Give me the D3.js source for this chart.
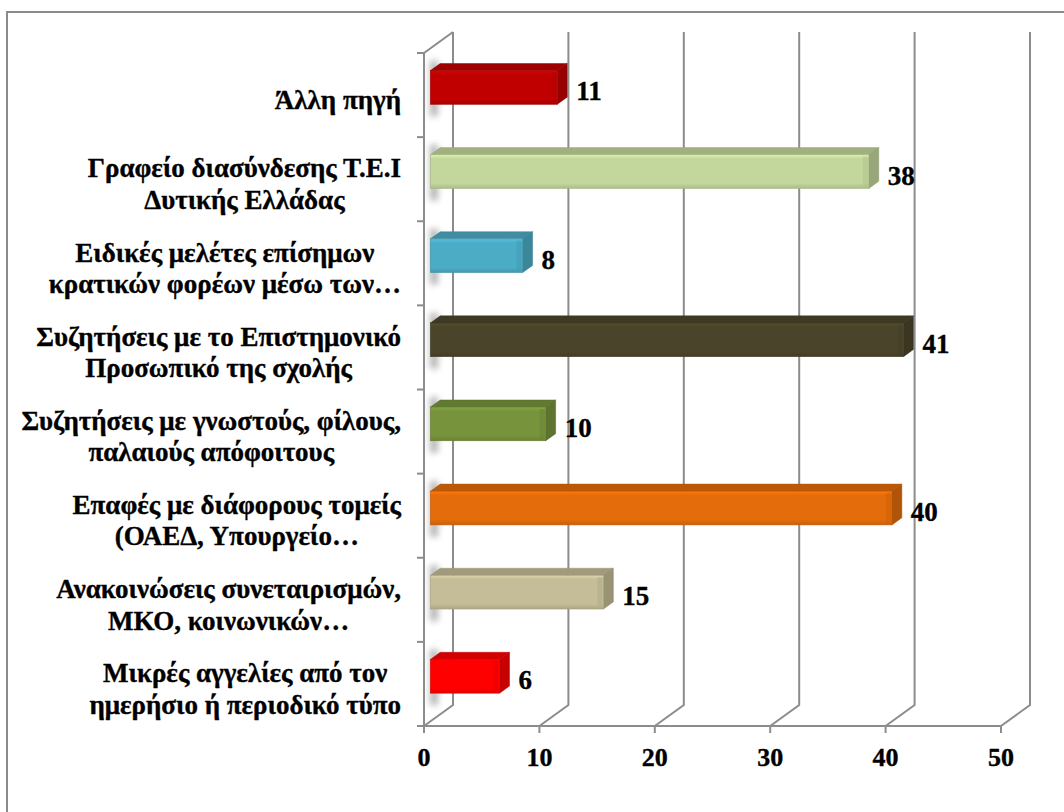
<!DOCTYPE html>
<html>
<head>
<meta charset="utf-8">
<script src="https://cdn.jsdelivr.net/npm/d3@7"></script>
<style>
  html, body { margin: 0; padding: 0; background: #fff; }
  svg { display: block; }
  text { font-family: "Liberation Serif", "Times New Roman", serif; font-weight: 700; fill: #000; stroke: #000; stroke-width: 0.35px; }
</style>
</head>
<body>
<svg id="chart" width="1064" height="812"></svg>
<script>
// ---- data ----
const categories = [
  ["Άλλη πηγή"],
  ["Γραφείο διασύνδεσης Τ.Ε.Ι", "Δυτικής Ελλάδας"],
  ["Ειδικές μελέτες επίσημων", "κρατικών φορέων μέσω των…"],
  ["Συζητήσεις με το Επιστημονικό", "Προσωπικό της σχολής"],
  ["Συζητήσεις με γνωστούς, φίλους,", "παλαιούς απόφοιτους"],
  ["Επαφές με διάφορους τομείς", "(ΟΑΕΔ, Υπουργείο…"],
  ["Ανακοινώσεις συνεταιρισμών,", "ΜΚΟ, κοινωνικών…"],
  ["Μικρές αγγελίες από τον", "ημερήσιο ή περιοδικό τύπο"]
];
const values = [11, 38, 8, 41, 10, 40, 15, 6];
const tickValues = [0, 10, 20, 30, 40, 50];
const barColors = ["#C00000", "#C3D69B", "#4BACC6", "#4A452A", "#77933C", "#E46C0A", "#C4BD97", "#FF0000"];

// ---- layout ----
const svg = d3.select("#chart");
const CAT_FONT = 27, VAL_FONT = 27, TICK_FONT = 26;
const DX = 29, DY = 21;          // depth projection of the plot box
const Z1 = 0.22, Z2 = 0.56;      // bar depth range (fraction of the box depth)
const yTop = 53, yBottom = 726;

const x = d3.scaleLinear().domain([0, 50]).range([424, 1001]);
const yIdx = d3.range(categories.length);
const y = d3.scaleBand().domain(yIdx).range([yTop, yBottom]).paddingInner(0.6).paddingOuter(0.3);
const yb = d3.scaleBand().domain(yIdx).range([yTop, yBottom]).padding(0);

const gridColor = "#8C8C8C";

// outer frame
svg.append("rect").attr("x", 7).attr("y", 12).attr("width", 1200).attr("height", 1000)
  .attr("fill", "none").attr("stroke", "#8A8A8A").attr("stroke-width", 2);

const defs = svg.append("defs");
defs.append("filter").attr("id", "blur").attr("x", "-100%").attr("y", "-50%").attr("width", "300%").attr("height", "200%")
  .append("feGaussianBlur").attr("stdDeviation", 3);

const grid = svg.append("g").attr("stroke", gridColor).attr("stroke-width", 2).attr("fill", "none");

// back-wall vertical gridlines + floor diagonals
tickValues.forEach(t => {
  const xf = x(t), xb = x(t) + DX;
  grid.append("path").attr("d", `M${xb},${yTop - DY} L${xb},${yBottom - DY} L${xf},${yBottom}`);
});
// front floor edge
grid.append("line").attr("x1", x(0)).attr("x2", x(50)).attr("y1", yBottom).attr("y2", yBottom);
// left wall: front edge and top edge
grid.append("path").attr("d", `M${x(0)},${yBottom} L${x(0)},${yTop} L${x(0) + DX},${yTop - DY}`);
// category ticks
d3.range(categories.length + 1).forEach(i => {
  const yy = yTop + i * yb.step();
  grid.append("line").attr("x1", x(0) - 7).attr("x2", x(0)).attr("y1", yy).attr("y2", yy);
});
// value ticks
tickValues.forEach(t => {
  grid.append("line").attr("x1", x(t)).attr("x2", x(t)).attr("y1", yBottom).attr("y2", yBottom + 7);
});

// value axis labels
svg.append("g").selectAll("text").data(tickValues).join("text")
  .attr("x", d => x(d)).attr("y", 766).attr("text-anchor", "middle")
  .style("font-size", TICK_FONT + "px").text(d => d);

// bars
const bars = svg.append("g");
values.forEach((v, i) => {
  const col = d3.color(barColors[i]);
  const cyFront = y(i) + y.bandwidth() / 2 - Z1 * DY - 3;
  const h = y.bandwidth();
  const yt = cyFront - h / 2, ybt = cyFront + h / 2;
  const x0 = x(0) + Z1 * DX, x1 = x(v) + Z1 * DX;
  const dx = (Z2 - Z1) * DX, dy = (Z2 - Z1) * DY;

  // soft shadow on the wall
  bars.append("rect").attr("x", x(0) + 6).attr("y", yt - 10).attr("width", 8).attr("height", h + 22)
    .attr("fill", "#7a7a7a").attr("opacity", 0.55).attr("filter", "url(#blur)");

  const gid = "g" + i;
  const lg = defs.append("linearGradient").attr("id", gid).attr("x1", 0).attr("y1", 0).attr("x2", 0).attr("y2", 1);
  lg.append("stop").attr("offset", 0).attr("stop-color", col.brighter(0.35));
  lg.append("stop").attr("offset", 0.12).attr("stop-color", col);
  lg.append("stop").attr("offset", 0.85).attr("stop-color", col);
  lg.append("stop").attr("offset", 1).attr("stop-color", col.darker(0.35));

  // top face
  bars.append("path")
    .attr("d", `M${x0},${yt} L${x1},${yt} L${x1 + dx},${yt - dy} L${x0 + dx},${yt - dy} Z`)
    .attr("fill", col.darker(0.55)).attr("stroke", col.darker(0.7)).attr("stroke-width", 0.5);
  // right face
  bars.append("path")
    .attr("d", `M${x1},${yt} L${x1 + dx},${yt - dy} L${x1 + dx},${ybt - dy} L${x1},${ybt} Z`)
    .attr("fill", col.darker(0.7)).attr("stroke", col.darker(0.9)).attr("stroke-width", 0.5);
  // front face
  bars.append("rect").attr("x", x0).attr("y", yt).attr("width", x1 - x0).attr("height", h)
    .attr("fill", `url(#${gid})`).attr("stroke", col.darker(0.5)).attr("stroke-width", 0.6);
  // bevel highlight on the right end
  bars.append("rect").attr("x", x1 - 6).attr("y", yt + 2).attr("width", 5).attr("height", h - 4)
    .attr("fill", col.darker(0.25)).attr("opacity", 0.6);

  // data label
  svg.append("text").attr("x", x1 + dx + 9).attr("y", cyFront + 3.5 + 9.5)
    .style("font-size", VAL_FONT + "px").text(v);
});

// category labels
const catG = svg.append("g");
categories.forEach((lines, i) => {
  const g = catG.append("g");
  const texts = lines.map(l => g.append("text").style("font-size", CAT_FONT + "px").attr("text-anchor", "middle").text(l));
  const maxW = d3.max(texts, t => t.node().getComputedTextLength());
  const cx = 401 - maxW / 2;
  const lh = 31.5;
  const center = yb(i) + yb.bandwidth() / 2 + 5;
  const n = lines.length;
  texts.forEach((t, k) => {
    const visualMid = center + (k - (n - 1) / 2) * lh;
    t.attr("x", cx).attr("y", visualMid + 9);
  });
});
</script>
</body>
</html>
